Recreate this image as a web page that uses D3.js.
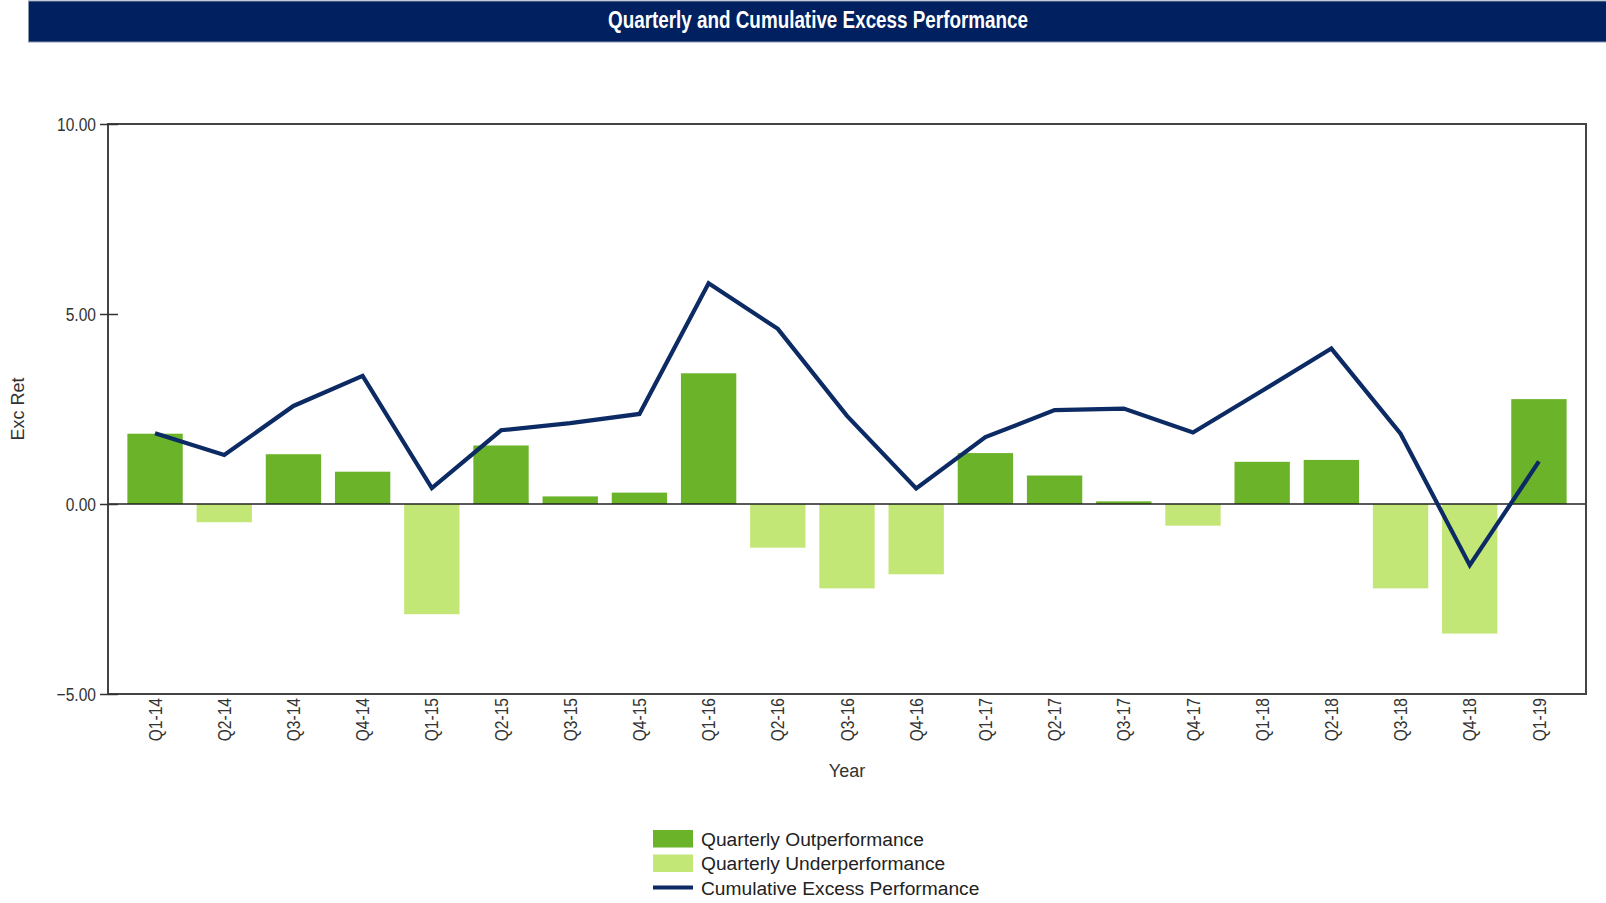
<!DOCTYPE html>
<html>
<head>
<meta charset="utf-8">
<script src="https://cdn.jsdelivr.net/npm/d3@7"></script>
<style>
  body { margin: 0; background: #fff; }
  svg { display: block; }
  text { font-family: "Liberation Sans", Arial, sans-serif; }
</style>
</head>
<body>
<div id="chart"></div>
<script>
// quarters on the x axis
var quarters = ["Q1-14", "Q2-14", "Q3-14", "Q4-14", "Q1-15", "Q2-15", "Q3-15", "Q4-15",
                "Q1-16", "Q2-16", "Q3-16", "Q4-16", "Q1-17", "Q2-17", "Q3-17", "Q4-17",
                "Q1-18", "Q2-18", "Q3-18", "Q4-18", "Q1-19"];

// quarterly excess return (bars)
var quarterly = [1.85, -0.48, 1.31, 0.85, -2.90, 1.54, 0.20, 0.30, 3.44, -1.15, -2.22,
                 -1.85, 1.34, 0.75, 0.07, -0.57, 1.11, 1.16, -2.22, -3.41, 2.76];

// cumulative excess performance (line)
var cumulative = [1.86, 1.29, 2.58, 3.37, 0.42, 1.94, 2.13, 2.37, 5.81, 4.61, 2.32,
                  0.41, 1.76, 2.47, 2.51, 1.88, 2.98, 4.09, 1.85, -1.61, 1.12];

var yTicks = [-5, 0, 5, 10];
var legendItems = ["Quarterly Outperformance", "Quarterly Underperformance", "Cumulative Excess Performance"];

var W = 1606, H = 903;
var plotLeft = 108, plotRight = 1586, plotTop = 124, plotBottom = 694;
var narrow = 0.82; // squeeze factor to fake a narrow font
var darkGreen = "#6bb42a", lightGreen = "#c3e776", navy = "#0c2a63";

var svg = d3.select("#chart").append("svg")
    .attr("width", W)
    .attr("height", H);

// title bar
svg.append("rect")
    .attr("x", 28.5).attr("y", 1)
    .attr("width", W - 28).attr("height", 41)
    .style("fill", "#002060")
    .style("stroke", "#8a96ad")
    .style("stroke-width", 1);

svg.append("text")
    .attr("transform", "translate(818,28) scale(" + narrow + ",1)")
    .attr("text-anchor", "middle")
    .style("font-size", "23px")
    .style("font-weight", "bold")
    .style("fill", "#fff")
    .text("Quarterly and Cumulative Excess Performance");

var x = d3.scaleBand()
    .domain(quarters)
    .range([plotLeft, plotRight])
    .paddingInner(0.2)
    .paddingOuter(0.28);

var y = d3.scaleLinear()
    .domain([-5, 10])
    .range([plotBottom, plotTop]);

// bars
svg.append("g")
    .selectAll("rect")
    .data(quarterly)
    .enter().append("rect")
    .attr("x", (d, i) => x(quarters[i]))
    .attr("width", x.bandwidth())
    .attr("y", d => y(Math.max(0, d)))
    .attr("height", d => Math.abs(y(d) - y(0)))
    .style("fill", d => d >= 0 ? darkGreen : lightGreen);

// zero line
svg.append("line")
    .attr("x1", plotLeft).attr("x2", plotRight)
    .attr("y1", y(0)).attr("y2", y(0))
    .style("stroke", "#222")
    .style("stroke-width", 1.6);

// cumulative line
var line = d3.line()
    .x((d, i) => x(quarters[i]) + x.bandwidth() / 2)
    .y(d => y(d));

svg.append("path")
    .datum(cumulative)
    .attr("d", line)
    .style("fill", "none")
    .style("stroke", navy)
    .style("stroke-width", 4.2)
    .style("stroke-linejoin", "miter");

// plot frame
svg.append("rect")
    .attr("x", plotLeft).attr("y", plotTop)
    .attr("width", plotRight - plotLeft).attr("height", plotBottom - plotTop)
    .style("fill", "none")
    .style("stroke", "#444")
    .style("stroke-width", 2);

// y axis
var yAxis = svg.append("g")
    .attr("transform", "translate(" + plotLeft + ",0)")
    .call(d3.axisLeft(y).tickValues(yTicks).tickSize(8).tickFormat(d3.format(".2f")));
yAxis.select(".domain").remove();
yAxis.selectAll(".tick line")
    .attr("x1", 10)
    .style("stroke", "#333")
    .style("stroke-width", 1.5);
yAxis.selectAll(".tick text")
    .attr("x", -12 / narrow)
    .attr("transform", "scale(" + narrow + ",1)")
    .style("font-family", "'Liberation Sans', Arial, sans-serif")
    .style("font-size", "19px")
    .style("fill", "#333");

// x axis labels
var xAxis = svg.append("g")
    .attr("transform", "translate(0," + plotBottom + ")")
    .call(d3.axisBottom(x).tickSize(0));
xAxis.select(".domain").remove();
xAxis.selectAll(".tick text")
    .attr("transform", "rotate(-90) scale(" + narrow + ",1)")
    .attr("x", -4 / narrow)
    .attr("y", 0)
    .attr("dy", "0.35em")
    .attr("text-anchor", "end")
    .style("font-family", "'Liberation Sans', Arial, sans-serif")
    .style("font-size", "19px")
    .style("fill", "#333");

// axis titles
svg.append("text")
    .attr("x", (plotLeft + plotRight) / 2).attr("y", 777)
    .attr("text-anchor", "middle")
    .style("font-size", "18px")
    .style("fill", "#333")
    .text("Year");

svg.append("text")
    .attr("transform", "translate(24," + ((plotTop + plotBottom) / 2) + ") rotate(-90)")
    .attr("text-anchor", "middle")
    .style("font-size", "18px")
    .style("fill", "#333")
    .text("Exc Ret");

// legend
var legend = svg.append("g")
    .attr("transform", "translate(653,830)");

legendItems.forEach(function(name, i) {
    var g = legend.append("g").attr("transform", "translate(0," + (i * 24.5) + ")");
    if (i < 2) {
        g.append("rect")
            .attr("width", 40).attr("height", 17.5)
            .style("fill", i === 0 ? darkGreen : lightGreen);
    } else {
        g.append("line")
            .attr("x1", 0).attr("x2", 40)
            .attr("y1", 8.5).attr("y2", 8.5)
            .style("stroke", navy)
            .style("stroke-width", 4);
    }
    g.append("text")
        .attr("x", 48).attr("y", 15.5)
        .style("font-size", "19.2px")
        .style("fill", "#222")
        .text(name);
});
</script>
</body>
</html>
